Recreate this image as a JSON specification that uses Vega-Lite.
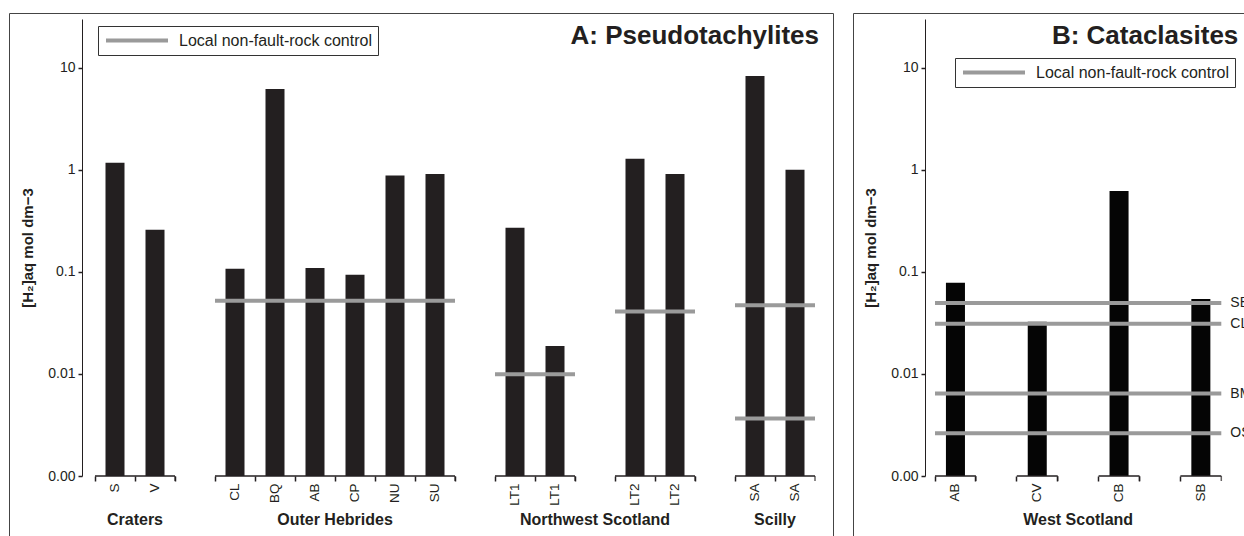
{
  "$schema": "https://vega.github.io/schema/vega-lite/v6.json",
  "padding": {"left": 8, "top": 12, "right": 0, "bottom": 0},
  "background": "white",
  "spacing": 18,
  "config": {
    "font": "Liberation Sans",
    "view": {"stroke": "#444444", "strokeWidth": 1},
    "axis": {"grid": false, "labelFont": "Liberation Sans", "titleFont": "Liberation Sans", "labelColor": "#231f20", "titleColor": "#231f20", "domainColor": "#231f20", "tickColor": "#231f20"},
    "legend": {"labelFont": "Liberation Sans"}
  },
  "datasets": {
    "barsA": [
      {"slot": "S", "value": 1.17},
      {"slot": "V", "value": 0.258},
      {"slot": "CL", "value": 0.107},
      {"slot": "BQ", "value": 6.2},
      {"slot": "AB", "value": 0.109},
      {"slot": "CP", "value": 0.0935},
      {"slot": "NU", "value": 0.88},
      {"slot": "SU", "value": 0.91},
      {"slot": "LT1 a", "value": 0.27},
      {"slot": "LT1 b", "value": 0.0188},
      {"slot": "LT2 a", "value": 1.28},
      {"slot": "LT2 b", "value": 0.91},
      {"slot": "SA a", "value": 8.3},
      {"slot": "SA b", "value": 1.0}
    ],
    "segA": [
      {"start": "S", "end": "V"},
      {"start": "CL", "end": "SU"},
      {"start": "LT1 a", "end": "LT1 b"},
      {"start": "LT2 a", "end": "LT2 b"},
      {"start": "SA a", "end": "SA b"}
    ],
    "linesA": [
      {"start": "CL", "end": "SU", "value": 0.052},
      {"start": "LT1 a", "end": "LT1 b", "value": 0.0099},
      {"start": "LT2 a", "end": "LT2 b", "value": 0.041},
      {"start": "SA a", "end": "SA b", "value": 0.047},
      {"start": "SA a", "end": "SA b", "value": 0.00365}
    ],
    "groupsA": [
      {"name": "Craters", "at": "V"},
      {"name": "Outer Hebrides", "at": "CP"},
      {"name": "Northwest Scotland", "at": "_3"},
      {"name": "Scilly", "at": "SA b"}
    ],
    "barsB": [
      {"slot": "AB", "value": 0.078},
      {"slot": "CV", "value": 0.0324},
      {"slot": "CB", "value": 0.62},
      {"slot": "SB", "value": 0.0543}
    ],
    "segB": [
      {"start": "AB", "end": "AB"},
      {"start": "CV", "end": "CV"},
      {"start": "CB", "end": "CB"},
      {"start": "SB", "end": "SB"}
    ],
    "linesB": [
      {"name": "SB", "start": "AB", "end": "SB", "value": 0.0496},
      {"name": "CL", "start": "AB", "end": "SB", "value": 0.0311},
      {"name": "BM", "start": "AB", "end": "SB", "value": 0.00642},
      {"name": "OS", "start": "AB", "end": "SB", "value": 0.00262}
    ],
    "groupsB": [
      {"name": "West Scotland", "at": "_b"}
    ]
  },
  "resolve": {"scale": {"color": "independent"}, "legend": {"color": "independent"}},
  "hconcat": [
    {
      "width": 824,
      "height": 540,
      "layer": [
        {
          "data": {"name": "barsA"},
          "mark": {"type": "bar", "color": "#231f20", "width": {"band": 0.475}},
          "encoding": {
            "x": {"field": "slot", "type": "nominal",
              "scale": {"domain": ["S", "V", "_1", "CL", "BQ", "AB", "CP", "NU", "SU", "_2", "LT1 a", "LT1 b", "_3", "LT2 a", "LT2 b", "_4", "SA a", "SA b"], "range": [86, 806], "paddingInner": 0, "paddingOuter": 0},
              "axis": {"title": null, "orient": "bottom", "offset": -77, "bandPosition": 0, "labelAngle": -90, "labelAlign": "right", "labelBaseline": "middle", "labelPadding": 2, "labelFontSize": 13.5, "labelOverlap": false, "domain": false, "tickSize": 5, "tickWidth": 1.5, "labelExpr": "indexof(datum.value, '_') == 0 ? '' : split(datum.value, ' ')[0]"}},
            "y": {"field": "value", "type": "quantitative",
              "scale": {"type": "log", "domain": [0.001, 30], "range": [463, 6], "nice": false},
              "axis": {"title": "[H₂]aq mol dm−3", "orient": "left", "offset": -73, "values": [0.001, 0.01, 0.1, 1, 10], "labelExpr": "datum.value < 0.005 ? '0.00' : datum.value < 0.05 ? '0.01' : datum.value < 0.5 ? '0.1' : datum.value < 5 ? '1' : '10'", "labelFontSize": 14, "tickSize": 4, "tickWidth": 1.5, "domainWidth": 1, "labelPadding": 3, "titleFontSize": 15, "titleFontWeight": "bold", "titlePadding": 12}},
            "y2": {"datum": 0.001}
          }
        },
        {
          "data": {"name": "segA"},
          "mark": {"type": "rule", "color": "#231f20", "strokeWidth": 1.5},
          "encoding": {
            "x": {"field": "start", "type": "nominal", "bandPosition": 0},
            "x2": {"field": "end", "bandPosition": 1},
            "y": {"datum": 0.001}
          }
        },
        {
          "data": {"name": "segA"},
          "mark": {"type": "tick", "orient": "vertical", "size": 5, "thickness": 1.5, "color": "#231f20", "yOffset": 2.5},
          "encoding": {
            "x": {"field": "end", "type": "nominal", "bandPosition": 1},
            "y": {"datum": 0.001}
          }
        },
        {
          "data": {"name": "linesA"},
          "mark": {"type": "rule", "strokeWidth": 4},
          "encoding": {
            "x": {"field": "start", "type": "nominal", "bandPosition": 0},
            "x2": {"field": "end", "bandPosition": 1},
            "y": {"field": "value", "type": "quantitative"},
            "color": {"datum": "Local non-fault-rock control", "type": "nominal", "scale": {"range": ["#9a9a9a"]},
              "legend": {"title": null, "orient": "none", "legendX": 89, "legendY": 13, "symbolType": "stroke", "symbolSize": 3844, "symbolStrokeWidth": 4, "clipHeight": 17, "labelFontSize": 16, "labelLimit": 300, "labelColor": "#231f20", "labelOffset": 9, "padding": 6, "strokeColor": "#333333", "symbolOffset": 0}}
          }
        },
        {
          "data": {"name": "groupsA"},
          "transform": [{"filter": "datum.name != 'Northwest Scotland'"}],
          "mark": {"type": "text", "fontSize": 16, "fontWeight": "bold", "color": "#231f20", "align": "center", "baseline": "middle", "dy": 44},
          "encoding": {
            "x": {"field": "at", "type": "nominal", "bandPosition": 0},
            "y": {"datum": 0.001},
            "text": {"field": "name"}
          }
        },
        {
          "data": {"name": "groupsA"},
          "transform": [{"filter": "datum.name == 'Northwest Scotland'"}],
          "mark": {"type": "text", "fontSize": 16, "fontWeight": "bold", "color": "#231f20", "align": "center", "baseline": "middle", "dy": 44},
          "encoding": {
            "x": {"field": "at", "type": "nominal", "bandPosition": 0.5},
            "y": {"datum": 0.001},
            "text": {"field": "name"}
          }
        },
        {
          "data": {"values": [{"title": "A: Pseudotachylites", "at": "SA b"}]},
          "mark": {"type": "text", "fontSize": 26, "fontWeight": "bold", "color": "#231f20", "align": "right", "baseline": "alphabetic", "dx": 4, "dy": 25},
          "encoding": {
            "x": {"field": "at", "type": "nominal", "bandPosition": 1},
            "y": {"datum": 30},
            "text": {"field": "title"}
          }
        }
      ]
    },
    {
      "width": 400,
      "height": 540,
      "layer": [
        {
          "data": {"name": "barsB"},
          "mark": {"type": "bar", "color": "#050505", "width": {"band": 0.465}},
          "encoding": {
            "x": {"field": "slot", "type": "nominal",
              "scale": {"domain": ["AB", "_a", "CV", "_b", "CB", "_c", "SB"], "range": [82, 368.3], "paddingInner": 0, "paddingOuter": 0},
              "axis": {"title": null, "orient": "bottom", "offset": -77, "bandPosition": 0, "labelAngle": -90, "labelAlign": "right", "labelBaseline": "middle", "labelPadding": 2, "labelFontSize": 13.5, "labelOverlap": false, "domain": false, "tickSize": 5, "tickWidth": 1.5, "labelExpr": "indexof(datum.value, '_') == 0 ? '' : datum.value"}},
            "y": {"field": "value", "type": "quantitative",
              "scale": {"type": "log", "domain": [0.001, 30], "range": [463, 6], "nice": false},
              "axis": {"title": "[H₂]aq mol dm−3", "orient": "left", "offset": -72, "values": [0.001, 0.01, 0.1, 1, 10], "labelExpr": "datum.value < 0.005 ? '0.00' : datum.value < 0.05 ? '0.01' : datum.value < 0.5 ? '0.1' : datum.value < 5 ? '1' : '10'", "labelFontSize": 14, "tickSize": 4, "tickWidth": 1.5, "domainWidth": 1, "labelPadding": 3, "titleFontSize": 15, "titleFontWeight": "bold", "titlePadding": 12}},
            "y2": {"datum": 0.001}
          }
        },
        {
          "data": {"name": "segB"},
          "mark": {"type": "rule", "color": "#231f20", "strokeWidth": 1.5},
          "encoding": {
            "x": {"field": "start", "type": "nominal", "bandPosition": 0},
            "x2": {"field": "end", "bandPosition": 1},
            "y": {"datum": 0.001}
          }
        },
        {
          "data": {"name": "segB"},
          "mark": {"type": "tick", "orient": "vertical", "size": 5, "thickness": 1.5, "color": "#231f20", "yOffset": 2.5},
          "encoding": {
            "x": {"field": "end", "type": "nominal", "bandPosition": 1},
            "y": {"datum": 0.001}
          }
        },
        {
          "data": {"name": "linesB"},
          "mark": {"type": "rule", "strokeWidth": 4},
          "encoding": {
            "x": {"field": "start", "type": "nominal", "bandPosition": 0},
            "x2": {"field": "end", "bandPosition": 1},
            "y": {"field": "value", "type": "quantitative"},
            "color": {"datum": "Local non-fault-rock control", "type": "nominal", "scale": {"range": ["#9a9a9a"]},
              "legend": {"title": null, "orient": "none", "legendX": 102, "legendY": 45, "symbolType": "stroke", "symbolSize": 3844, "symbolStrokeWidth": 4, "clipHeight": 17, "labelFontSize": 16, "labelLimit": 300, "labelColor": "#231f20", "labelOffset": 9, "padding": 6, "strokeColor": "#333333", "symbolOffset": 0}}
          }
        },
        {
          "data": {"name": "linesB"},
          "mark": {"type": "text", "fontSize": 14, "color": "#231f20", "align": "left", "baseline": "middle", "dx": 9},
          "encoding": {
            "x": {"field": "end", "type": "nominal", "bandPosition": 1},
            "y": {"field": "value", "type": "quantitative"},
            "text": {"field": "name"}
          }
        },
        {
          "data": {"name": "groupsB"},
          "mark": {"type": "text", "fontSize": 16, "fontWeight": "bold", "color": "#231f20", "align": "center", "baseline": "middle", "dy": 44},
          "encoding": {
            "x": {"field": "at", "type": "nominal", "bandPosition": 0.5},
            "y": {"datum": 0.001},
            "text": {"field": "name"}
          }
        },
        {
          "data": {"values": [{"title": "B: Cataclasites", "at": "SB"}]},
          "mark": {"type": "text", "fontSize": 26, "fontWeight": "bold", "color": "#231f20", "align": "right", "baseline": "alphabetic", "dx": 17, "dy": 25},
          "encoding": {
            "x": {"field": "at", "type": "nominal", "bandPosition": 1},
            "y": {"datum": 30},
            "text": {"field": "title"}
          }
        }
      ]
    }
  ]
}
